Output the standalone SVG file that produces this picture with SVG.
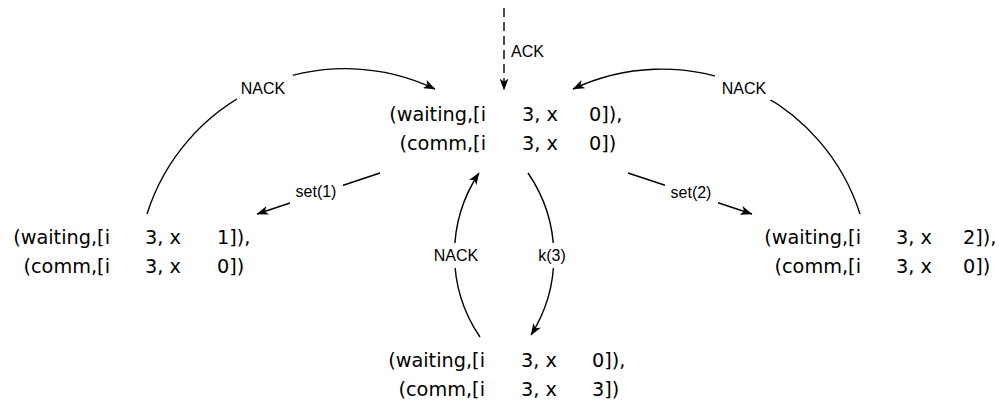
<svg xmlns="http://www.w3.org/2000/svg" width="999" height="410" viewBox="0 0 999 410">
  <defs>
    <marker id="arrow" markerUnits="userSpaceOnUse" markerWidth="12" markerHeight="9" viewBox="0 0 12 9" refX="11.5" refY="4.5" orient="auto">
      <path d="M0,0 L12,4.5 L0,9 L3.2,4.5 z" fill="#000"/>
    </marker>
    <style>
      .state { font-family: "DejaVu Sans", "Liberation Sans", sans-serif; font-size: 19.3px; fill: #000; }
      .state .lhs { text-anchor: end; }
      .edge { fill: none; stroke: #000; stroke-width: 1.4; marker-end: url(#arrow); }
      .dashed { stroke-dasharray: 9 5; }
      .gap { fill: #fff; }
      .label { font-family: "Liberation Sans", Arial, sans-serif; font-size: 16px; fill: #000; text-anchor: middle; }
    </style>
  </defs>
  <rect width="999" height="410" fill="#fff"/>

  <!-- transitions -->
  <g id="connectors">
    <path class="edge dashed" d="M504,8 L504,90"/>
    <path class="edge" d="M147,214 A208,208 0 0 1 435,89"/>
    <path class="edge" d="M860,214 A208,208 0 0 0 573,89"/>
    <path class="edge" d="M380,173 L257,214"/>
    <path class="edge" d="M628,173 L752,214"/>
    <path class="edge" d="M480,337 A147,147 0 0 1 479,173"/>
    <path class="edge" d="M528,173 A147,147 0 0 1 531,335"/>

    <!-- white knock-outs so the labels sit in gaps of their lines -->
    <rect class="gap" x="237" y="75" width="56" height="25"/>
    <rect class="gap" x="715" y="75" width="56" height="25"/>
    <rect class="gap" x="290" y="180" width="53" height="25"/>
    <rect class="gap" x="665" y="180" width="53" height="25"/>
    <rect class="gap" x="430" y="243" width="52" height="25"/>
    <rect class="gap" x="535" y="243" width="34" height="25"/>

    <text class="label" x="511" y="57" style="text-anchor:start">ACK</text>
    <text class="label" x="263" y="94">NACK</text>
    <text class="label" x="744" y="94">NACK</text>
    <text class="label" x="316" y="197">set(1)</text>
    <text class="label" x="691" y="198">set(2)</text>
    <text class="label" x="456" y="261">NACK</text>
    <text class="label" x="552" y="261">k(3)</text>
  </g>

  <!-- states -->
  <g id="state-top" class="state">
    <text class="lhs" x="486" y="121">(waiting,[i</text>
    <text x="522" y="121">3, x</text>
    <text x="589" y="121">0]),</text>
    <text class="lhs" x="486" y="150">(comm,[i</text>
    <text x="522" y="150">3, x</text>
    <text x="589" y="150">0])</text>
  </g>

  <g id="state-left" class="state">
    <text class="lhs" x="110" y="244">(waiting,[i</text>
    <text x="145" y="244">3, x</text>
    <text x="217" y="244">1]),</text>
    <text class="lhs" x="110" y="273">(comm,[i</text>
    <text x="145" y="273">3, x</text>
    <text x="217" y="273">0])</text>
  </g>

  <g id="state-right" class="state">
    <text class="lhs" x="861" y="244">(waiting,[i</text>
    <text x="896" y="244">3, x</text>
    <text x="963" y="244">2]),</text>
    <text class="lhs" x="861" y="273">(comm,[i</text>
    <text x="896" y="273">3, x</text>
    <text x="963" y="273">0])</text>
  </g>

  <g id="state-bottom" class="state">
    <text class="lhs" x="485" y="367">(waiting,[i</text>
    <text x="521" y="367">3, x</text>
    <text x="592" y="367">0]),</text>
    <text class="lhs" x="485" y="396">(comm,[i</text>
    <text x="521" y="396">3, x</text>
    <text x="592" y="396">3])</text>
  </g>
</svg>
